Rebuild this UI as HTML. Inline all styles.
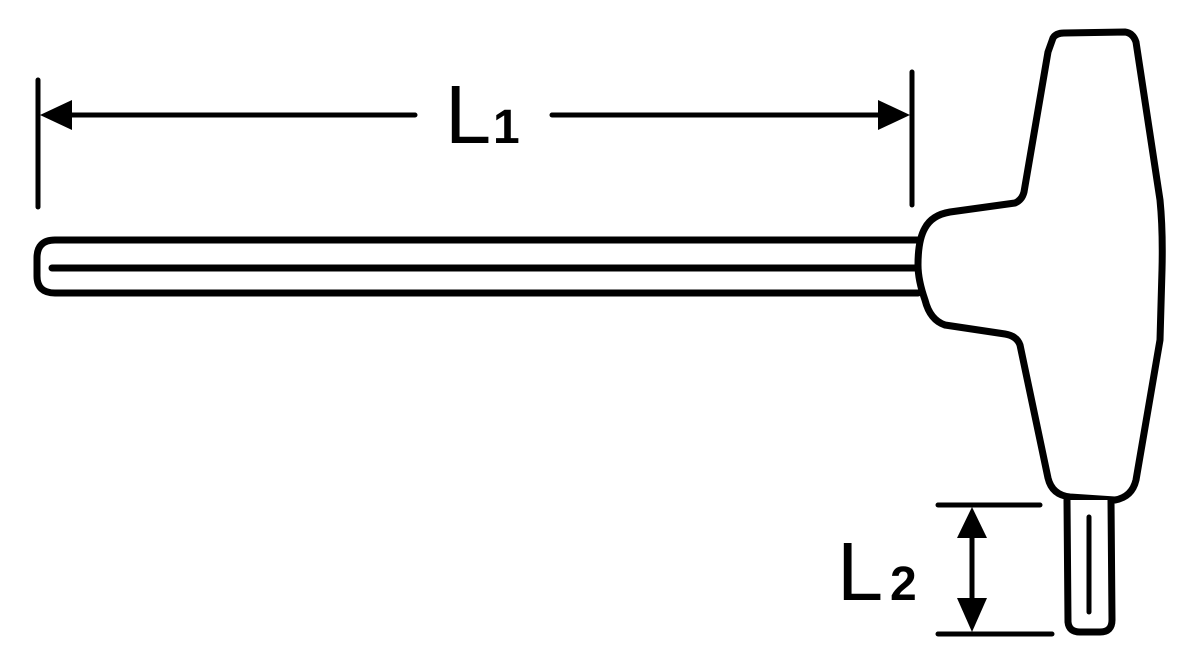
<!DOCTYPE html>
<html><head><style>html,body{margin:0;padding:0;background:#fff}svg{display:block}</style></head>
<body>
<svg width="1200" height="670" viewBox="0 0 1200 670" xmlns="http://www.w3.org/2000/svg">
<g stroke="#000" fill="none" stroke-linecap="round" stroke-linejoin="round">
<!-- L1 dimension -->
<line x1="38" y1="80" x2="38" y2="207" stroke-width="5"/>
<line x1="912" y1="72" x2="912" y2="205" stroke-width="5"/>
<line x1="60" y1="115" x2="415" y2="115" stroke-width="5"/>
<line x1="552" y1="115" x2="890" y2="115" stroke-width="5"/>
<!-- shaft -->
<path d="M918 240 L55 240 Q37 240 37 258 L37 276 Q37 293 55 293 L918 293" stroke-width="7"/>
<line x1="52" y1="268" x2="918" y2="268" stroke-width="7"/>
<!-- handle -->
<path fill="#fff" stroke-width="7" d="M1053 38 Q1056 33 1064 33 L1125 32 Q1133 33 1136 42 L1160 200 Q1163 230 1162 270 L1160 340 L1136 480 Q1132 497 1115 500 L1070 497 Q1052 495 1048 478 L1020 345 Q1017 336 1005 334 L945 325 Q930 320 925 300 Q918 280 918 265 Q918 240 925 228 Q932 215 950 212 L1015 203 Q1022 200 1024 192 L1048 52 Z"/>
<!-- pin -->
<path fill="#fff" stroke-width="7" d="M1067 500 L1068 622 Q1069 632 1080 632 L1100 632 Q1112 632 1112 620 L1111 500"/>
<line x1="1089" y1="517" x2="1089" y2="612" stroke-width="5"/>
<!-- L2 dimension -->
<line x1="938" y1="505" x2="1040" y2="505" stroke-width="5"/>
<line x1="938" y1="634" x2="1052" y2="634" stroke-width="5"/>
<line x1="972" y1="520" x2="972" y2="620" stroke-width="5"/>
</g>
<g fill="#000">
<polygon points="40,115 72,100 72,130"/>
<polygon points="910,115 878,100 878,130"/>
<polygon points="972,507 957,538 987,538"/>
<polygon points="972,632 957,598 987,598"/>
<text x="445" y="143" font-family="Liberation Sans, sans-serif" font-size="83">L</text>
<text x="493" y="143" font-family="Liberation Sans, sans-serif" font-size="48" font-weight="bold">1</text>
<text x="837" y="600" font-family="Liberation Sans, sans-serif" font-size="83">L</text>
<text x="890" y="600" font-family="Liberation Sans, sans-serif" font-size="48" font-weight="bold">2</text>
</g>
</svg>
</body></html>
